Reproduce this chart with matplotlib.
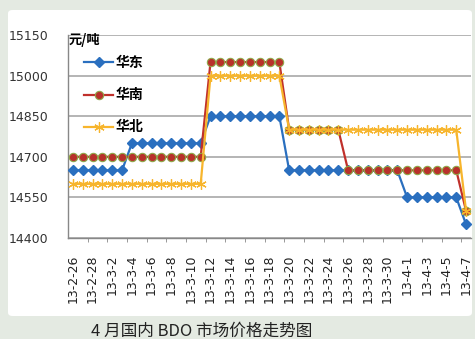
import matplotlib
matplotlib.use("Agg")
import matplotlib.pyplot as plt
from matplotlib.patches import FancyBboxPatch
from matplotlib.ticker import FixedLocator

plt.rcParams['font.family'] = ['DejaVu Sans', 'Noto Sans CJK SC']

# daily dates 13-2-26 .. 13-4-7
dates = ['13-2-26', '13-2-27', '13-2-28', '13-3-1', '13-3-2', '13-3-3', '13-3-4',
         '13-3-5', '13-3-6', '13-3-7', '13-3-8', '13-3-9', '13-3-10', '13-3-11',
         '13-3-12', '13-3-13', '13-3-14', '13-3-15', '13-3-16', '13-3-17', '13-3-18',
         '13-3-19', '13-3-20', '13-3-21', '13-3-22', '13-3-23', '13-3-24', '13-3-25',
         '13-3-26', '13-3-27', '13-3-28', '13-3-29', '13-3-30', '13-3-31', '13-4-1',
         '13-4-2', '13-4-3', '13-4-4', '13-4-5', '13-4-6', '13-4-7']

huadong = [14650, 14650, 14650, 14650, 14650, 14650, 14750, 14750, 14750, 14750,
           14750, 14750, 14750, 14750, 14850, 14850, 14850, 14850, 14850, 14850,
           14850, 14850, 14650, 14650, 14650, 14650, 14650, 14650, 14650, 14650,
           14650, 14650, 14650, 14650, 14550, 14550, 14550, 14550, 14550, 14550,
           14450]
huanan = [14700, 14700, 14700, 14700, 14700, 14700, 14700, 14700, 14700, 14700,
          14700, 14700, 14700, 14700, 15050, 15050, 15050, 15050, 15050, 15050,
          15050, 15050, 14800, 14800, 14800, 14800, 14800, 14800, 14650, 14650,
          14650, 14650, 14650, 14650, 14650, 14650, 14650, 14650, 14650, 14650,
          14500]
huabei = [14600, 14600, 14600, 14600, 14600, 14600, 14600, 14600, 14600, 14600,
          14600, 14600, 14600, 14600, 15000, 15000, 15000, 15000, 15000, 15000,
          15000, 15000, 14800, 14800, 14800, 14800, 14800, 14800, 14800, 14800,
          14800, 14800, 14800, 14800, 14800, 14800, 14800, 14800, 14800, 14800,
          14500]

yticks = [14400, 14550, 14700, 14850, 15000, 15150]

fig = plt.figure(figsize=(4.75, 3.39), dpi=100, facecolor='#e4eae2')
# white inner panel
panel = FancyBboxPatch((8 / 475, 1 - 316 / 339), 464 / 475, 306 / 339,
                       boxstyle='round,pad=0,rounding_size=0.01',
                       transform=fig.transFigure, facecolor='white',
                       edgecolor='none', zorder=-10)
fig.patches.append(panel)

ax = fig.add_axes([68 / 475, 1 - 238 / 339, 403 / 475, 203 / 339])
ax.set_facecolor('none')

x = list(range(len(dates)))
ax.plot(x, huadong, color='#2a6fbf', lw=1.6, marker='D', ms=5.5,
        mfc='#2a6fbf', mec='#2a6fbf', label='华东', zorder=3)
ax.plot(x, huanan, color='#c0302b', lw=1.6, marker='o', ms=6,
        mfc='#b8312b', mec='#8fa84a', mew=0.8, label='华南', zorder=4)
ax.plot(x, huabei, color='#f7b52c', lw=1.6, marker=(6, 2, 0), ms=7.5,
        mec='#f7b52c', mew=0.9, label='华北', zorder=5)

ax.set_xlim(-0.5, len(dates) - 0.5)
ax.set_ylim(14400, 15150)
ax.set_yticks(yticks)
ax.set_yticklabels([str(v) for v in yticks], fontsize=9, color='#333333')
ax.tick_params(axis='y', length=0, pad=14)

ax.set_xticks(x[::2])
ax.set_xticklabels(dates[::2], rotation=90, fontsize=9, color='#222222')
ax.xaxis.set_minor_locator(FixedLocator([i - 0.5 for i in range(2, len(dates), 2)]))
ax.tick_params(axis='x', which='major', length=0, pad=12)
ax.tick_params(axis='x', which='minor', length=3, color='#888888')

ax.grid(axis='y', color='#a8a8a8', lw=1.2)
ax.set_axisbelow(True)
for s in ['top', 'right']:
    ax.spines[s].set_visible(False)
for s in ['left', 'bottom']:
    ax.spines[s].set_color('#888888')
    ax.spines[s].set_linewidth(1.0)

ax.text(0.002, 1.01, '元/吨', transform=ax.transAxes, fontsize=9.5,
        va='top', ha='left', family=['Noto Sans CJK SC'], fontweight='bold')

ax.legend(loc='upper left', bbox_to_anchor=(0.04, 0.895), frameon=False,
          prop={'family': 'Noto Sans CJK SC', 'size': 10, 'weight': 'bold'},
          handlelength=2.1, handletextpad=0.2, labelspacing=1.3,
          borderpad=0, borderaxespad=0)

fig.text(202 / 475, 1 - 331 / 339, '4 月国内 BDO 市场价格走势图', fontsize=12,
         ha='center', va='center', color='#222222',
         family=['Noto Sans CJK SC'])

fig.savefig('out.png', dpi=100, facecolor=fig.get_facecolor())
